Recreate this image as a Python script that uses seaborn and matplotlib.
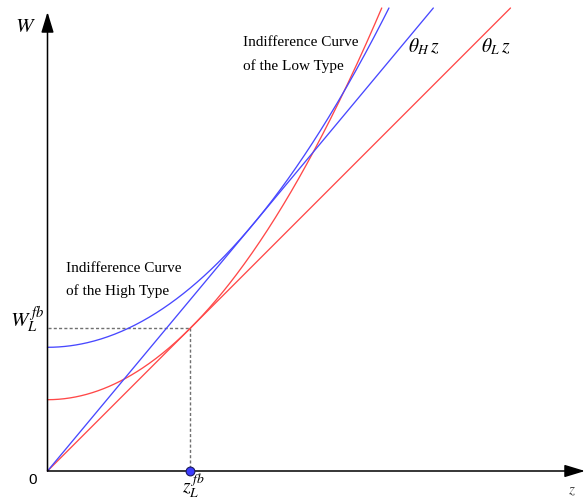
import numpy as np
import pandas as pd
import matplotlib
matplotlib.use("Agg")
import matplotlib.pyplot as plt
import seaborn as sns

# Model parameters: marginal rates for the low and high type, and the
# utility intercepts (value of W at z = 0) of the two indifference curves
types = ["L", "H"]
theta = [1.0, 1.2]
intercept = [0.713, 1.237]
colors = ["#ff4848", "#4848ff"]
W_top = 4.63  # curves and rays are drawn up to this height

sns.set_theme(style="white")
plt.rcParams["mathtext.fontset"] = "stix"
plt.rcParams["font.family"] = ["Liberation Serif", "DejaVu Serif"]
plt.rcParams["text.color"] = "black"

W_PX, H_PX = 585, 501
fig = plt.figure(figsize=(W_PX / 100, H_PX / 100), dpi=100)
ax = fig.add_axes([0, 0, 1, 1])
ax.set_xlim(-0.475, 5.375)
ax.set_ylim(-0.30, 4.71)
ax.axis("off")


def at(x, y):
    """Pixel position -> axes fraction."""
    return x / W_PX, 1 - y / H_PX


rows = []
for t, th, c in zip(types, theta, intercept):
    # straight ray W = theta * z
    z_ray = np.linspace(0, W_top / th, 50)
    rows.append(pd.DataFrame({"z": z_ray, "W": th * z_ray, "kind": f"ray_{t}", "type": t}))
    # indifference curve W = c + theta^2 z^2 / (4c), tangent to the ray
    k = th ** 2 / (4 * c)
    z_c = np.linspace(0, np.sqrt((W_top - c) / k), 300)
    rows.append(pd.DataFrame({"z": z_c, "W": c + k * z_c ** 2, "kind": f"ic_{t}", "type": t}))
df = pd.concat(rows, ignore_index=True)

for kind, sub in df.groupby("kind", sort=False):
    col = colors[types.index(sub["type"].iloc[0])]
    sns.lineplot(data=sub, x="z", y="W", color=col, lw=0.95, ax=ax,
                 estimator=None, sort=False, zorder=3)

# first-best point of the low type: tangency of its curve with its ray
z_fb = 2 * intercept[0] / theta[0]
W_fb = theta[0] * z_fb
ax.plot([0, z_fb], [W_fb, W_fb], color="#707070", lw=1.0, dashes=(2.2, 1.6), zorder=2)
ax.plot([z_fb, z_fb], [W_fb, 0], color="#707070", lw=1.0, dashes=(2.2, 1.6), zorder=2)
sns.scatterplot(x=[z_fb], y=[0], s=40, color="#3c3cff", edgecolor="#1a1a60",
                linewidth=0.8, ax=ax, zorder=6, clip_on=False)

# axes with arrowheads
arrow = dict(arrowstyle="-|>,head_length=1.25,head_width=0.38", mutation_scale=10,
             color="black", lw=1.1, shrinkA=0, shrinkB=0)
ax.annotate("", xy=at(585, 471), xytext=at(47.5, 471), xycoords="axes fraction",
            textcoords="axes fraction", arrowprops=arrow, zorder=5)
ax.annotate("", xy=at(47.5, 12), xytext=at(47.5, 471), xycoords="axes fraction",
            textcoords="axes fraction", arrowprops=arrow, zorder=5)

tr = ax.transAxes
ax.text(*at(25, 27), r"$W$", fontsize=15, ha="center", va="center", transform=tr)
ax.text(*at(572, 491), r"$z$", fontsize=11, ha="center", va="center",
        color="#444444", transform=tr)
ax.text(*at(33, 480), "0", fontsize=11, ha="center", va="center",
        family=["Liberation Sans", "DejaVu Sans"], transform=tr)
ax.text(*at(27, 320), r"$W_L^{\,fb}$", fontsize=15, ha="center", va="center", transform=tr)
ax.text(*at(193, 486), r"$z_L^{\,fb}$", fontsize=14, ha="center", va="center", transform=tr)
ax.text(*at(424, 46.5), r"$\theta_H\, z$", fontsize=14, ha="center", va="center", transform=tr)
ax.text(*at(496, 46.5), r"$\theta_L\, z$", fontsize=14, ha="center", va="center", transform=tr)

ax.text(*at(243, 42), "Indifference Curve", fontsize=11, ha="left", va="center", transform=tr)
ax.text(*at(243, 66), "of the Low Type", fontsize=11, ha="left", va="center", transform=tr)
ax.text(*at(66.5, 268.5), "Indifference Curve", fontsize=11, ha="left", va="center", transform=tr)
ax.text(*at(66.5, 291.5), "of the High Type", fontsize=11, ha="left", va="center", transform=tr)

fig.savefig("out.png", dpi=100)
